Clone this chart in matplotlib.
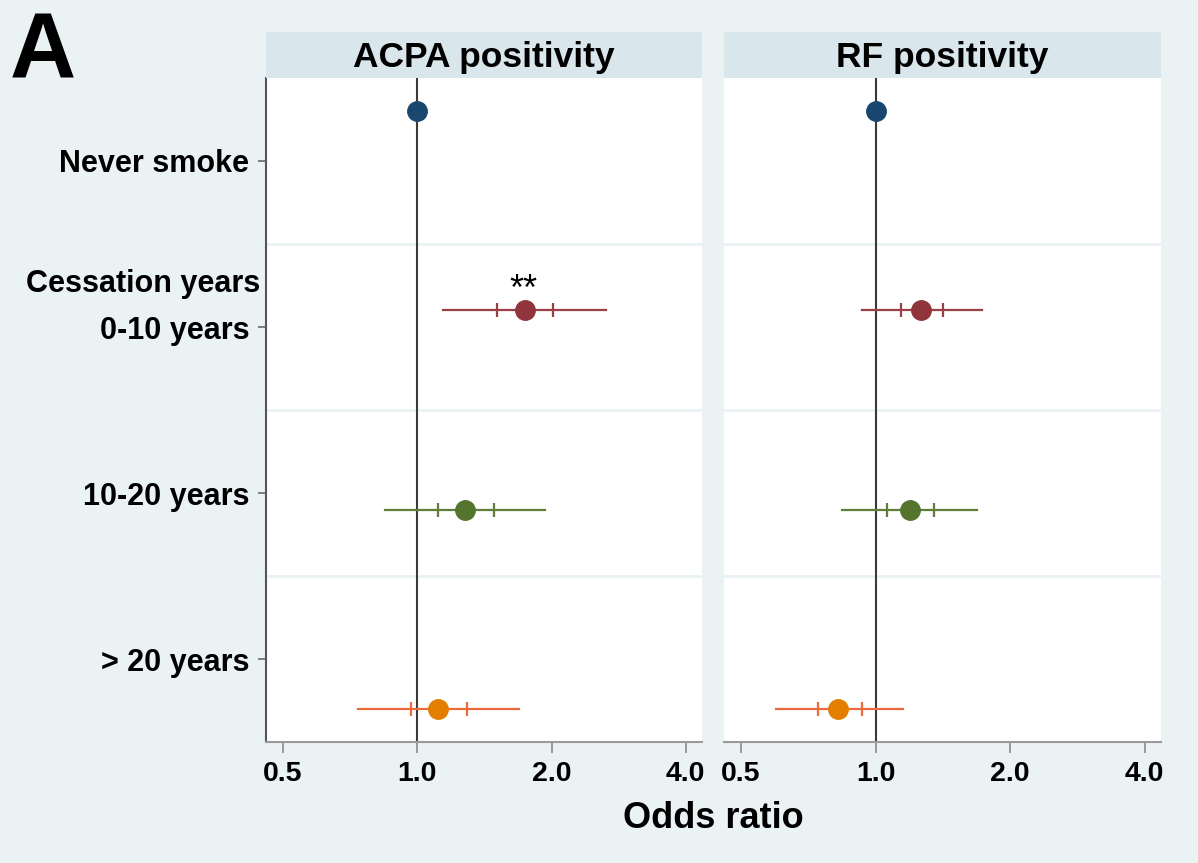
import matplotlib
matplotlib.use("Agg")
import matplotlib.pyplot as plt
import numpy as np

plt.rcParams['font.family'] = ['Liberation Sans', 'DejaVu Sans']

# data
groups = ["Never smoke", "0-10 years", "10-20 years", "> 20 years"]
colors = ["#1A476F", "#90353B", "#55752F", "#E37E00"]
ci_colors = ["#1A476F", "#9A3F45", "#5E7E3A", "#EE6A3C"]

acpa_or = [1.0, 1.745, 1.281, 1.114]
acpa_lo = [np.nan, 1.143, 0.848, 0.738]
acpa_hi = [np.nan, 2.649, 1.934, 1.692]
acpa_lo_in = [np.nan, 1.51, 1.114, 0.969]
acpa_hi_in = [np.nan, 2.016, 1.487, 1.294]

rf_or = [1.0, 1.261, 1.192, 0.826]
rf_lo = [np.nan, 0.930, 0.839, 0.600]
rf_hi = [np.nan, 1.727, 1.683, 1.149]
rf_lo_in = [np.nan, 1.138, 1.058, 0.742]
rf_hi_in = [np.nan, 1.412, 1.348, 0.930]

xticks = [0.5, 1.0, 2.0, 4.0]
xticklabels = ["0.5", "1.0", "2.0", "4.0"]
titles = ["ACPA positivity", "RF positivity"]
stars = {"ACPA positivity": (1, "**")}

bg = "#EAF2F3"
strip = "#D9E6EB"

W, H = 1198, 863
fig = plt.figure(figsize=(W / 100, H / 100), dpi=100, facecolor=bg)

def px_axes(x0, y0, x1, y1):
    return [x0 / W, 1 - y1 / H, (x1 - x0) / W, (y1 - y0) / H]

panels = [
    (266, 702, titles[0], acpa_or, acpa_lo, acpa_hi, acpa_lo_in, acpa_hi_in),
    (724, 1161, titles[1], rf_or, rf_lo, rf_hi, rf_lo_in, rf_hi_in),
]

n = len(groups)
label_pos = np.arange(n) + 0.5
# points are spread over the rows differently from the label ticks (Stata layout)
point_pos = 0.2 + 1.2 * np.arange(n)

for k, (x0, x1, title, orv, lo, hi, loi, hii) in enumerate(panels):
    ax = fig.add_axes(px_axes(x0, 78, x1, 742))
    ax.set_facecolor("white")
    ax.set_xscale("log", base=2)
    ax.set_xlim(0.458, 4.35)
    ax.set_ylim(n, 0)

    for yb in range(1, n):
        ax.axhline(yb, color=bg, lw=2, zorder=1)
    ax.axvline(1.0, color="#3a3a3a", lw=1.5, zorder=2)

    for i in range(n):
        y = point_pos[i]
        if not np.isnan(lo[i]):
            ax.plot([lo[i], hi[i]], [y, y], color=ci_colors[i], lw=1.6, zorder=3)
            ax.plot([loi[i], hii[i]], [y, y], ls="none", marker="|",
                    ms=10, mew=1.6, color=ci_colors[i], zorder=3)
        ax.plot(orv[i], y, "o", ms=14, color=colors[i], mec=colors[i], zorder=4)

    if title in stars:
        i, s = stars[title]
        ax.annotate(s, (orv[i], point_pos[i]), xytext=(-1, 7.5),
                    textcoords="offset points", ha="center", va="baseline",
                    fontsize=26)

    ax.set_xticks(xticks)
    ax.set_xticklabels(xticklabels, fontsize=20.5, fontweight="bold")
    ax.xaxis.set_minor_locator(matplotlib.ticker.NullLocator())
    ax.tick_params(axis="x", length=8, width=1.2, color="#8a8a8a", pad=6)

    for s in ["top", "right"]:
        ax.spines[s].set_visible(False)
    ax.spines["bottom"].set_color("#9a9a9a")
    ax.spines["bottom"].set_linewidth(1.5)

    if k == 0:
        ax.set_yticks(label_pos)
        ax.set_yticklabels(groups, fontsize=22, fontweight="bold")
        ax.tick_params(axis="y", length=6, width=1.2, color="#6a6a6a", pad=6)
        ax.spines["left"].set_color("#555555")
        ax.spines["left"].set_linewidth(1.5)
        ax.text(-0.014, 1.24, "Cessation years", transform=ax.get_yaxis_transform(),
                ha="right", va="center", fontsize=22, fontweight="bold")
    else:
        ax.set_yticks([])
        ax.spines["left"].set_visible(False)

    hax = fig.add_axes(px_axes(x0, 32, x1, 78))
    hax.set_facecolor(strip)
    hax.set_xticks([])
    hax.set_yticks([])
    for s in hax.spines.values():
        s.set_visible(False)
    hax.text(0.5, 0.45, title, ha="center", va="center", fontsize=25.5,
             fontweight="bold", transform=hax.transAxes)

fig.text((266 + 1161) / 2 / W, 1 - 818 / H, "Odds ratio", ha="center", va="center",
         fontsize=26, fontweight="bold")
fig.text(10 / W, 1 - 77 / H, "A", ha="left", va="baseline", fontsize=66,
         fontweight="bold")

fig.savefig("out.png", dpi=100, facecolor=bg)
